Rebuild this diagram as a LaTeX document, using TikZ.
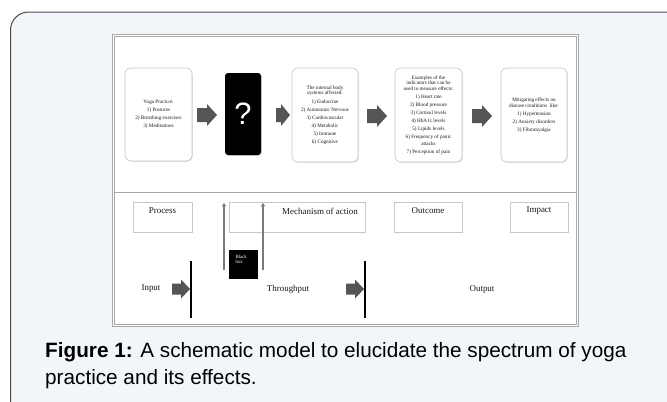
\documentclass[tikz,border=0pt]{standalone}
\usepackage{fontspec}
\setmainfont{Liberation Serif}
\newfontfamily\capfont{Liberation Sans}
\usetikzlibrary{shadows,arrows.meta}
\definecolor{outerfill}{HTML}{F2F6FA}
\definecolor{outerline}{HTML}{4A4A4A}
\definecolor{innerline}{HTML}{A8A8A8}
\definecolor{boxline}{HTML}{C8C8C8}
\definecolor{arrowgray}{HTML}{555555}
\definecolor{vgray}{HTML}{7A7A7A}
\definecolor{txt}{HTML}{1A1A1A}
\newcommand\blockarrow[6]{%
  \fill[arrowgray] ({#1},{#3-#4}) -- ({#6},{#3-#4}) -- ({#6},{#3-#5}) -- ({#2},{#3}) -- ({#6},{#3+#5}) -- ({#6},{#3+#4}) -- ({#1},{#3+#4}) -- cycle;}
\begin{document}
\begin{tikzpicture}[x=1bp,y=-1bp,
  rbox/.style={draw=boxline, line width=0.6bp, fill=white, rounded corners=6bp,
    drop shadow={shadow xshift=0.8bp, shadow yshift=-0.8bp, opacity=0.25},
    inner sep=1bp, align=center, text=txt, font=\fontsize{5.2}{5.6}\selectfont},
  qbox/.style={fill=black, rounded corners=3bp,
    drop shadow={shadow xshift=0.8bp, shadow yshift=-0.8bp, opacity=0.3},
    text=white, font=\capfont\fontsize{31}{33}\selectfont},
  lbox/.style={draw=boxline, line width=0.7bp, fill=white, inner sep=0pt},
  lbl/.style={font=\fontsize{9}{10}\selectfont, text=txt, inner sep=0pt},
  vline/.style={draw=vgray, line width=2bp, -{Stealth[length=3.5bp,width=4.5bp]}},
  bar/.style={draw=black, line width=2.4bp},
  captext/.style={anchor=base west, inner sep=0pt, font=\capfont\fontsize{20.8}{26.5}\selectfont}]
\useasboundingbox (0,0) rectangle (667,401);
\begin{scope}
\clip (0,0) rectangle (667,401);
\draw[draw=outerline, fill=outerfill, line width=1bp, rounded corners=18bp] (10.5,12) rectangle (720,440);
\end{scope}
% inner frame
\draw[innerline, fill=white, line width=0.8bp] (112,34) rectangle (578,326.5);
\draw[innerline, line width=0.8bp] (114,36) rectangle (576,324.5);
\draw[innerline, line width=0.8bp] (114,192.5) -- (576,192.5);
% top row
\node[rbox, minimum width=67bp, minimum height=93bp] (yoga) at (158.5,114.5)
  {Yoga Practice:\\[2.6bp]1) Postures\\[2.6bp]2) Breathing exercises\\[2.6bp]3) Meditations};
\node[qbox, minimum width=36bp, minimum height=82bp] (q) at (243,114) {?};
\node[rbox, minimum width=66bp, minimum height=94bp] (sys) at (325,115)
  {The internal body\\systems affected:\\[3.4bp]1) Endocrine\\[2.4bp]2) Autonomic Nervous\\[2.4bp]3) Cardiovascular\\[2.4bp]4) Metabolic\\[2.4bp]5) Immune\\[2.4bp]6) Cognitive};
\node[rbox, minimum width=67bp, minimum height=94bp] (ind) at (428.5,115)
  {Examples of the\\indicators that can be\\used to measure effects:\\[3bp]1) Heart rate\\[2.4bp]2) Blood pressure\\[2.4bp]3) Cortisol levels\\[2.4bp]4) HbA1c levels\\[2.4bp]5) Lipids levels\\[2.4bp]6) Frequency of panic\\[1bp]attacks\\[2.4bp]7) Perception of pain};
\node[rbox, minimum width=66bp, minimum height=94bp] (mit) at (534,115)
  {Mitigating effects on\\disease conditions\ \ like:\\[2.4bp]1) Hypertension\\[2.4bp]2) Anxiety disorders\\[2.4bp]3) Fibromyalgia};
\blockarrow{197}{217}{115}{7}{11}{207}
\blockarrow{276}{290}{115}{7}{11}{281}
\blockarrow{367}{387}{116}{7}{11}{377}
\blockarrow{472}{492}{116}{7}{11}{482}
% second row
\node[lbox, minimum width=59bp, minimum height=30bp] (proc) at (162.5,217) {};
\node[lbox, minimum width=136bp, minimum height=30bp] (mech) at (297,217) {};
\node[lbox, minimum width=68bp, minimum height=30bp] (outc) at (428,217) {};
\node[lbox, minimum width=58bp, minimum height=30bp] (imp) at (539,217) {};
\node[lbl] (procl) at (162.5,211) {Process};
\node[lbl] (mechl) at (320,211) {Mechanism of action};
\node[lbl] (outcl) at (428,211) {Outcome};
\node[lbl] (impl) at (539,211) {Impact};
% black box and vertical arrows
\node[fill=black, minimum width=29bp, minimum height=29bp, inner sep=0pt] (bb) at (243.5,264.5) {};
\node[text=white, font=\fontsize{4.8}{5.8}\selectfont, align=left, inner sep=0pt, anchor=north west] (bbl) at (235.5,254.5) {Black\\box};
\coordinate (va1) at (224,270);
\coordinate (va1t) at (224,203);
\coordinate (va2) at (263,270);
\coordinate (va2t) at (263,203);
\draw[vline] (va1) -- (va1t);
\draw[vline] (va2) -- (va2t);
% third row
\node[lbl] (inp) at (151,289) {Input};
\node[lbl] (thr) at (288,289) {Throughput};
\node[lbl] (outp) at (482,289) {Output};
\blockarrow{172}{190}{289}{5.5}{9.5}{181}
\blockarrow{346}{364}{289}{5.5}{9.5}{355}
\coordinate (b1t) at (191,261);
\coordinate (b1b) at (191,318);
\coordinate (b2t) at (365,261);
\coordinate (b2b) at (365,318);
\draw[bar] (b1t) -- (b1b);
\draw[bar] (b2t) -- (b2b);
% caption
\node[captext] (cap1) at (45,357.5) {\textbf{Figure 1:} A schematic model to elucidate the spectrum of yoga};
\node[captext] (cap2) at (45,384) {practice and its effects.};
\end{tikzpicture}
\end{document}
